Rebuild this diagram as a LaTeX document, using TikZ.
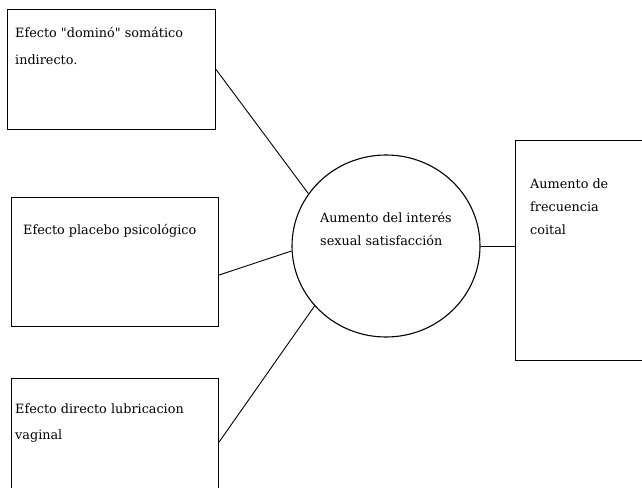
\documentclass[tikz,border=0pt]{standalone}
\usepackage{fontspec}
\setmainfont{DejaVu Serif}
\usetikzlibrary{shapes.geometric,calc}
\begin{document}
\begin{tikzpicture}[x=1pt,y=-1pt,
  box/.style={draw, line width=1.1pt, inner sep=0pt, anchor=north west},
  txt/.style={inner sep=0pt, anchor=north west, align=left},
  link/.style={line width=0.9pt}]
\useasboundingbox (0,0) rectangle (642,487);
\clip (0,0) rectangle (642,487);
% boxes
\node[box, minimum width=208pt, minimum height=120pt] (b1) at (7,9) {};
\node[box, minimum width=207pt, minimum height=129pt] (b2) at (11,197) {};
\node[box, minimum width=207pt, minimum height=140pt] (b3) at (11,378) {};
\node[box, minimum width=150pt, minimum height=220pt] (b4) at (515,140) {};
\node[draw, ellipse, line width=1.1pt, inner sep=0pt, minimum width=188pt, minimum height=182pt] (ell) at (386,246) {};
% texts
\node[txt, font=\fontsize{12.8}{27}\selectfont] (t1) at (15,27) {Efecto \textquotedbl dominó\textquotedbl{} somático\\indirecto.};
\node[txt, font=\fontsize{12.8}{24}\selectfont] (t2) at (23,224) {Efecto placebo psicológico};
\node[txt, font=\fontsize{12.8}{26}\selectfont] (t3) at (15,404) {Efecto directo lubricacion\\vaginal};
\node[txt, font=\fontsize{12.8}{23}\selectfont] (t5) at (320,212) {Aumento del interés\\sexual satisfacción};
\node[txt, font=\fontsize{12.8}{23}\selectfont] (t4) at (530,179) {Aumento de\\frecuencia\\coital};
% connectors
\coordinate (p2) at ($(b2.north east)+(0,78)$);
\coordinate (p3) at ($(b3.north east)+(0,64)$);
\draw[link] (b1.east) -- (ell.146.8);
\draw[link] (p2) -- (ell.183.6);
\draw[link] (p3) -- (ell.220.3);
\draw[link] (ell.east) -- (ell.east -| b4.west);
\end{tikzpicture}
\end{document}
